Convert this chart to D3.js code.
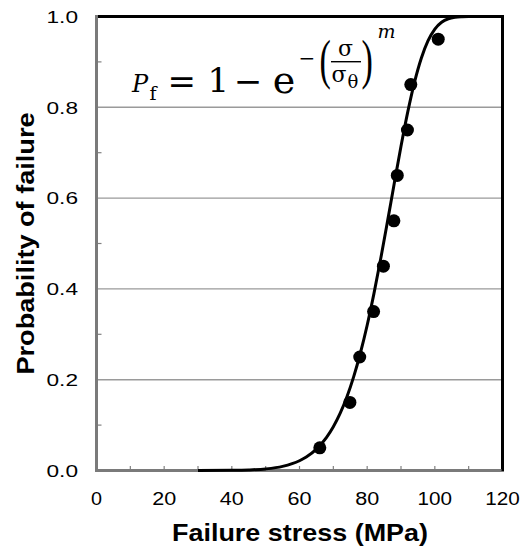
<!DOCTYPE html>
<html><head><meta charset="utf-8">
<script src="https://cdn.jsdelivr.net/npm/d3@7"></script>
<style>html,body{margin:0;padding:0;background:#fff;}svg{display:block;}</style>
</head><body>
<script>
// ---- data ----
const xTickValues = [0, 20, 40, 60, 80, 100, 120];
const yTickValues = [0, 0.2, 0.4, 0.6, 0.8, 1.0];
const yTickLabels = ["0.0", "0.2", "0.4", "0.6", "0.8", "1.0"];
const gridValues = [0.2, 0.4, 0.6, 0.8];
const xMinorTicks = [10, 20, 30, 40, 50, 60, 70, 80, 90, 100, 110];
const yMinorTicks = [0.1, 0.3, 0.5, 0.7, 0.9];
const stress = [66.0, 74.9, 77.8, 81.9, 84.8, 87.9, 88.9, 91.9, 92.9, 101.0];
const probability = [0.05, 0.15, 0.25, 0.35, 0.45, 0.55, 0.65, 0.75, 0.85, 0.95];
const curveStress = [30, 40, 45, 50, 55, 60, 62, 65, 68, 70, 72, 74, 76, 78, 80, 82, 84, 86, 88, 90, 92, 94, 96, 98, 100, 102, 104, 106, 108, 110];
const curveProb = [0, 0.0004, 0.0012, 0.0035, 0.0091, 0.0215, 0.0297, 0.0471, 0.0731, 0.0965, 0.1258, 0.162, 0.2062, 0.2588, 0.32, 0.3896, 0.4663, 0.5482, 0.6321, 0.7141, 0.7898, 0.8555, 0.9081, 0.9468, 0.9724, 0.9874, 0.9951, 0.9984, 0.9996, 1];
const xTitle = "Failure stress (MPa)";
const yTitle = "Probability of failure";

// ---- layout ----
const W = 523, H = 549;
const L = 96.5, R = 502.5, T = 16.5, B = 470.5;
const svg = d3.select("body").append("svg").attr("width", W).attr("height", H);
const x = d3.scaleLinear().domain([0, 120]).range([L, R]);
const y = d3.scaleLinear().domain([0, 1]).range([B, T]);
const sans = "'Liberation Sans', Arial, sans-serif";
const serif = "'DejaVu Serif', serif";

function fit(sel, w) { sel.attr("textLength", w).attr("lengthAdjust", "spacingAndGlyphs"); return sel; }

// gridlines
svg.append("g").selectAll("line").data(gridValues).join("line")
  .attr("x1", L).attr("x2", R).attr("y1", d => y(d)).attr("y2", d => y(d))
  .attr("stroke", "#9a9a9a").attr("stroke-width", 1.4);

// frame top/right (black)
svg.append("line").attr("x1", L - 1).attr("x2", R + 1.5).attr("y1", T).attr("y2", T).attr("stroke", "#000").attr("stroke-width", 3);
svg.append("line").attr("x1", R).attr("x2", R).attr("y1", T).attr("y2", B + 1).attr("stroke", "#000").attr("stroke-width", 3);

// minor ticks
svg.append("g").selectAll("line").data(yMinorTicks).join("line")
  .attr("x1", L).attr("x2", L + 5).attr("y1", d => y(d)).attr("y2", d => y(d))
  .attr("stroke", "#808080").attr("stroke-width", 1.2);
svg.append("g").selectAll("line").data(xMinorTicks).join("line")
  .attr("x1", d => x(d)).attr("x2", d => x(d)).attr("y1", B).attr("y2", B - 4.5)
  .attr("stroke", "#808080").attr("stroke-width", 1.2);

// axes lines (grey)
svg.append("line").attr("x1", L).attr("x2", L).attr("y1", T - 1.5).attr("y2", B + 1.5).attr("stroke", "#7a7a7a").attr("stroke-width", 3);
svg.append("line").attr("x1", L).attr("x2", R - 1).attr("y1", B).attr("y2", B).attr("stroke", "#7a7a7a").attr("stroke-width", 3);

// curve
const line = d3.line().x(d => x(d[0])).y(d => y(d[1])).curve(d3.curveMonotoneX);
svg.append("path").datum(curveStress.map((s, i) => [s, curveProb[i]]))
  .attr("d", line).attr("fill", "none").attr("stroke", "#000").attr("stroke-width", 3);

// points
svg.append("g").selectAll("circle").data(stress.map((s, i) => [s, probability[i]])).join("circle")
  .attr("cx", d => x(d[0])).attr("cy", d => y(d[1])).attr("r", 6.5).attr("fill", "#000");

// tick labels
svg.append("g").selectAll("text").data(yTickValues).join("text")
  .attr("x", 78).attr("y", d => y(d) + 6.2).attr("text-anchor", "end")
  .attr("font-family", sans).attr("font-size", 17).attr("fill", "#000")
  .text((d, i) => yTickLabels[i]).each(function () { fit(d3.select(this), 31.5); });
svg.append("g").selectAll("text").data(xTickValues).join("text")
  .attr("x", d => x(d)).attr("y", 505).attr("text-anchor", "middle")
  .attr("font-family", sans).attr("font-size", 18).attr("fill", "#000")
  .text(d => String(d)).each(function (d) {
    const n = String(d).length; fit(d3.select(this), n === 1 ? 11 : (n === 2 ? 24 : 34.5));
  });

// axis titles
fit(svg.append("text").attr("x", 300).attr("y", 541).attr("text-anchor", "middle")
  .attr("font-family", sans).attr("font-weight", "bold").attr("font-size", 24).text(xTitle), 256);
fit(svg.append("text").attr("transform", "translate(33.5,243.5) rotate(-90)").attr("text-anchor", "middle")
  .attr("font-family", sans).attr("font-weight", "bold").attr("font-size", 24).text(yTitle), 262);

// formula
const f = svg.append("g").attr("font-family", serif).attr("fill", "#000");
f.append("text").attr("x", 140).attr("y", 91.5).attr("text-anchor", "middle").attr("font-style", "italic").attr("font-size", 24).text("P");
f.append("text").attr("x", 149.5).attr("y", 100).attr("text-anchor", "start").attr("font-size", 19).text("f");
f.append("text").attr("x", 181.7).attr("y", 93).attr("text-anchor", "middle").attr("font-size", 34).text("=");
f.append("text").attr("x", 218.3).attr("y", 91.7).attr("text-anchor", "middle").attr("font-size", 34).text("1");
f.append("text").attr("x", 248).attr("y", 93).attr("text-anchor", "middle").attr("font-size", 34).text("\u2212");
f.append("text").attr("x", 284).attr("y", 92.5).attr("text-anchor", "middle").attr("font-size", 38).text("e");
f.append("text").attr("x", 307).attr("y", 65).attr("text-anchor", "middle").attr("font-size", 20).text("\u2212");
f.append("text").attr("transform", "translate(319.5,78) scale(1,1.6)").attr("font-family", "'Liberation Serif', serif").attr("font-size", 34).text("(");
f.append("text").attr("x", 345.5).attr("y", 56).attr("text-anchor", "middle").attr("font-size", 22).text("\u03c3");
f.append("line").attr("x1", 331).attr("x2", 361).attr("y1", 61.7).attr("y2", 61.7).attr("stroke", "#000").attr("stroke-width", 1.4);
f.append("text").attr("x", 339).attr("y", 82).attr("text-anchor", "middle").attr("font-size", 22).text("\u03c3");
f.append("text").attr("x", 353).attr("y", 87.5).attr("text-anchor", "middle").attr("font-size", 18).text("\u03b8");
f.append("text").attr("transform", "translate(361.5,78) scale(1,1.6)").attr("font-family", "'Liberation Serif', serif").attr("font-size", 34).text(")");
f.append("text").attr("x", 386.5).attr("y", 38).attr("text-anchor", "middle").attr("font-style", "italic").attr("font-size", 19).text("m");
</script>
</body></html>
